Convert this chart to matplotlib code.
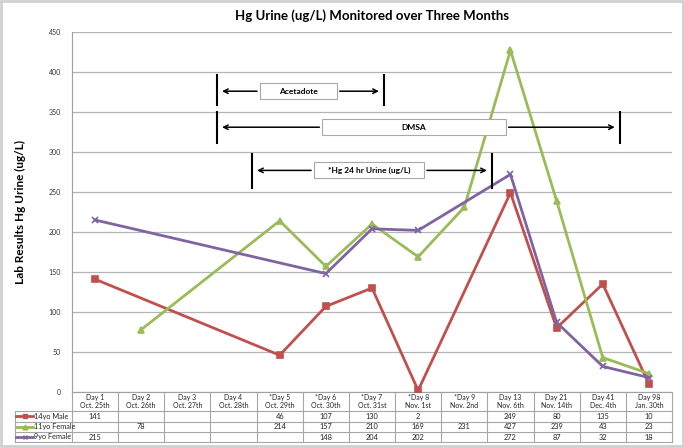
import numpy as np
import matplotlib.pyplot as plt
from matplotlib.patches import Rectangle

plt.rcParams['font.family'] = ['Lato', 'DejaVu Sans']

days = ["Day 1", "Day 2", "Day 3", "Day 4", "*Day 5", "*Day 6", "*Day 7",
        "*Day 8", "*Day 9", "Day 13", "Day 21", "Day 41", "Day 98"]
dates = ["Oct. 25th", "Oct. 26th", "Oct. 27th", "Oct. 28th", "Oct. 29th",
         "Oct. 30th", "Oct. 31st", "Nov. 1st", "Nov. 2nd", "Nov. 6th",
         "Nov. 14th", "Dec. 4th", "Jan. 30th"]
nan = np.nan
male14 = [141, nan, nan, nan, 46, 107, 130, 2, nan, 249, 80, 135, 10]
female11 = [nan, 78, nan, nan, 214, 157, 210, 169, 231, 427, 239, 43, 23]
female9 = [215, nan, nan, nan, nan, 148, 204, 202, nan, 272, 87, 32, 18]

series = [("14yo Male", male14, "#C0504D", "s", 5),
          ("11yo Female", female11, "#9BBB59", "^", 5),
          ("9yo Female", female9, "#8064A2", "x", 5)]

W, H = 684, 447
fig = plt.figure(figsize=(W / 100, H / 100), dpi=100)
fig.patches.append(Rectangle((0.002, 0.003), 0.996, 0.994, transform=fig.transFigure,
                             fill=False, edgecolor="#d0d0d0", linewidth=2))

ax = fig.add_axes([72 / W, (H - 392) / H, 600 / W, 360 / H])
x = np.arange(len(days))
for name, vals, col, mk, ms in series:
    v = np.array(vals, dtype=float)
    ok = ~np.isnan(v)
    ax.plot(x[ok], v[ok], color=col, lw=2, marker=mk, ms=ms, mew=1.2, zorder=3)

ax.set_xlim(-0.5, len(days) - 0.5)
ax.set_ylim(0, 450)
ax.set_yticks(np.arange(0, 451, 50))
ax.set_xticks([])
ax.tick_params(axis='y', length=0, pad=8, labelsize=5, colors="#333333")
ax.grid(axis='y', color="#b5b5b5", lw=0.9)
for s in ["top", "right"]:
    ax.spines[s].set_visible(False)
ax.spines["left"].set_color("#a0a0a0")
ax.spines["bottom"].set_color("#a0a0a0")

fig.text(372 / W, 1 - 16 / H, "Hg Urine (ug/L) Monitored over Three Months",
         ha="center", va="center", fontsize=9.5, fontweight="bold")
fig.text(20 / W, 1 - 212 / H, "Lab Results Hg Urine (ug/L)", rotation=90,
         ha="center", va="center", fontsize=8.5, fontweight="bold")

# treatment period annotations
periods = [("Acetadote", 2.64, 6.26, 376, 3.57, 5.24, 396, 359),
           ("DMSA", 2.64, 11.37, 331, 4.92, 8.90, 350, 311),
           ("*Hg 24 hr Urine (ug/L)", 3.40, 8.60, 277, 4.74, 7.13, 297, 255)]
for label, x0, x1, y, b0, b1, top, bot in periods:
    ax.plot([x0, x0], [bot, top], color="black", lw=1.5, zorder=4)
    ax.plot([x1, x1], [bot, top], color="black", lw=1.5, zorder=4)
    ax.annotate("", xy=(x0 + 0.05, y), xytext=(b0, y),
                arrowprops=dict(arrowstyle="->", color="black", lw=1.1, mutation_scale=8))
    ax.annotate("", xy=(x1 - 0.05, y), xytext=(b1, y),
                arrowprops=dict(arrowstyle="->", color="black", lw=1.1, mutation_scale=8))
    ax.add_patch(Rectangle((b0, y - 10), b1 - b0, 20, facecolor="white",
                           edgecolor="#a8a8a8", lw=0.8, zorder=5))
    ax.text((b0 + b1) / 2, y, label, ha="center", va="center", fontsize=6,
            fontweight="bold", zorder=6)

# data table
tax = fig.add_axes([72 / W, (H - 442) / H, 600 / W, 50 / H])
tax.set_xlim(-0.5, len(days) - 0.5)
tax.set_ylim(50, 0)
tax.axis("off")
gc = "#a6a6a6"
xl = -1.735
for k in range(len(days) + 1):
    tax.plot([k - 0.5, k - 0.5], [0, 50], color=gc, lw=0.8, clip_on=False)
tax.plot([xl, xl], [19, 50], color=gc, lw=0.8, clip_on=False)
row_y = [19, 29.5, 40, 50]
for yy in row_y:
    tax.plot([xl, len(days) - 0.5], [yy, yy], color=gc, lw=0.8, clip_on=False)
for i, (d, dt) in enumerate(zip(days, dates)):
    tax.text(i, 9.5, d + "\n" + dt, ha="center", va="center", fontsize=5,
             linespacing=1.3, color="#222222")
for r, (name, vals, col, mk, ms) in enumerate(series):
    yc = (row_y[r] + row_y[r + 1]) / 2
    tax.plot([xl + 0.03, xl + 0.4], [yc, yc], color=col, lw=2, clip_on=False)
    tax.plot([xl + 0.215], [yc], color=col, marker=mk, ms=3.5, clip_on=False)
    tax.text(xl + 0.42, yc, name, ha="left", va="center", fontsize=5.3, color="#222222")
    for i, v in enumerate(vals):
        if not np.isnan(v):
            tax.text(i, yc, "%d" % v, ha="center", va="center", fontsize=5.3,
                     color="#222222")

plt.savefig("out.png", dpi=100)
